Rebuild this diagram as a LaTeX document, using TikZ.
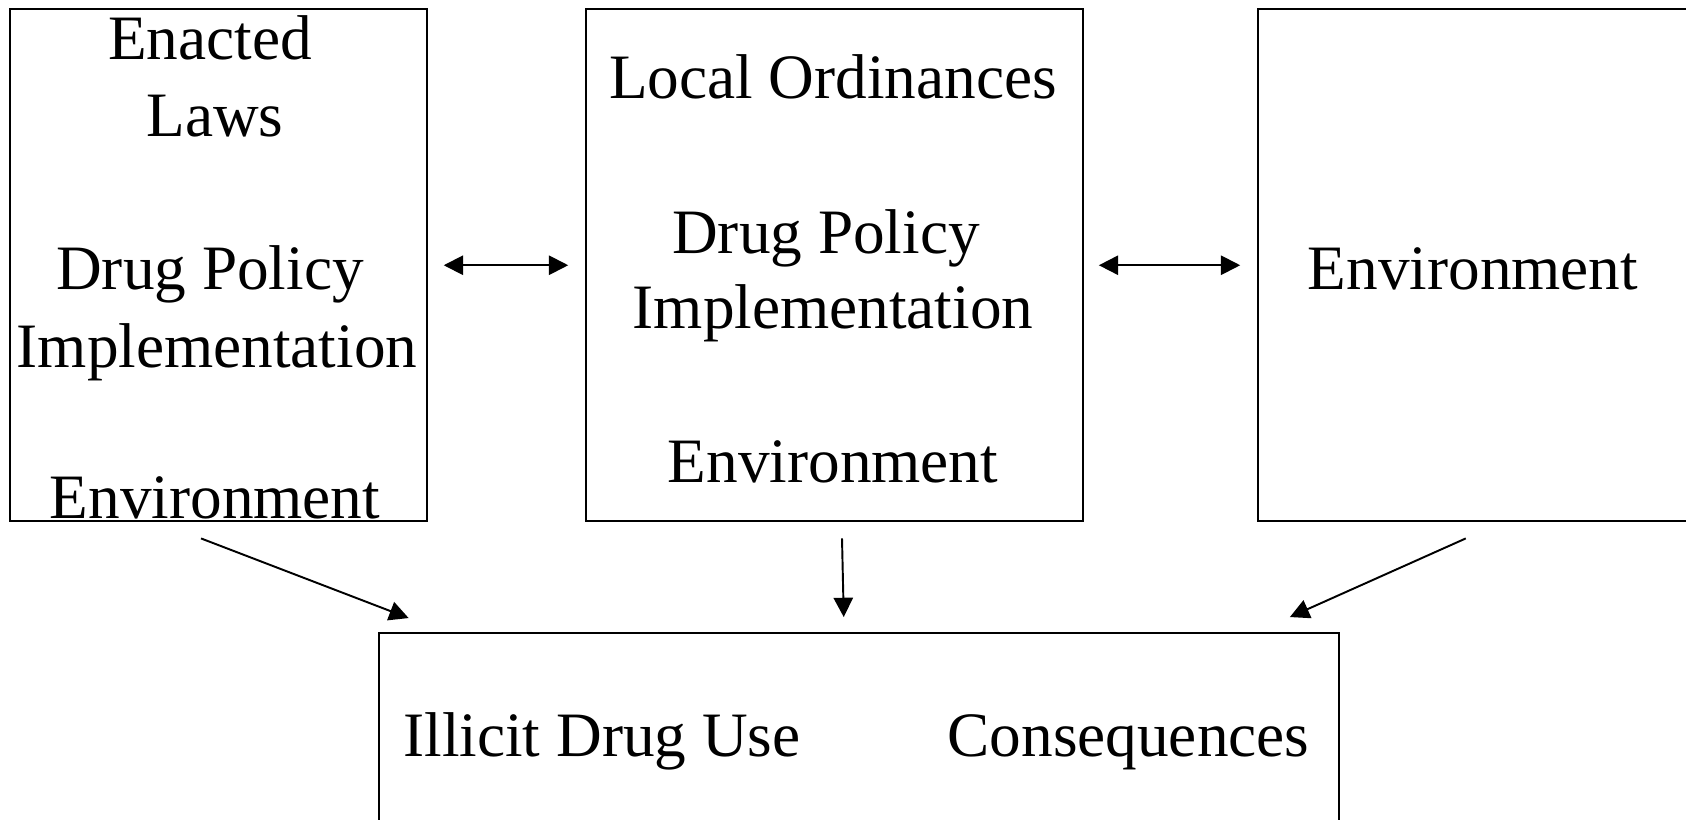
\documentclass[tikz,border=0pt]{standalone}
\usepackage{fontspec}
\setmainfont{Liberation Serif}
\usetikzlibrary{arrows.meta}

\tikzset{
 box/.style={draw, line width=1.1pt, inner sep=0pt},
 lbl/.style={anchor=base, inner sep=0pt, font=\fontsize{36}{43}\selectfont},
 link/.style={line width=1.1pt, >={Triangle[length=11pt,width=11pt]}}
}

\begin{document}
\begin{tikzpicture}[x=0.02cm, y=0.02cm]
\useasboundingbox (0,0) rectangle (1686,-820);
% boxes
\node[box, minimum width=8.34cm, minimum height=10.25cm] (lft) at (218.5,-265.25) {};
\node[box, minimum width=9.94cm, minimum height=10.25cm] (mid) at (834.5,-265.25) {};
\node[box, minimum width=9.24cm, minimum height=10.25cm] (rgt) at (1489,-265.25) {};
\node[box, minimum width=19.21cm, minimum height=4.54cm] (use) at (858.75,-746.5) {};
% texts
\node[lbl] (enacted) at (210,-60) {Enacted};
\node[lbl] (laws) at (215,-136.5) {Laws};
\node[lbl] (lftpolicy) at (210,-290) {Drug Policy};
\node[lbl] (lftimpl) at (217,-368) {Implementation};
\node[lbl] (lftenv) at (215,-518) {Environment};
\node[lbl] (local) at (833,-99) {Local Ordinances};
\node[lbl] (midpolicy) at (826,-254) {Drug Policy};
\node[lbl] (midimpl) at (833,-329) {Implementation};
\node[lbl] (midenv) at (833,-482) {Environment};
\node[lbl] (rgtenv) at (1473,-290) {Environment};
\node[lbl] (illicit) at (602,-756) {Illicit Drug Use};
\node[lbl] (conseq) at (1128.5,-756) {Consequences};
% arrows
\draw[link, <->, shorten <=9pt, shorten >=9.6pt] (lft.east) -- (mid.west);
\draw[link, <->, shorten <=8.5pt, shorten >=9.6pt] (mid.east) -- (rgt.west);
\draw[link, ->] ([shift={(-17.5,-16)}]lft.south) -- ([shift={(31,14)}]use.north west);
\draw[link, ->] ([shift={(7.5,-16)}]mid.south) -- ([shift={(-15,15)}]use.north);
\draw[link, ->] ([shift={(208.7,-16)}]rgt.south west) -- ([shift={(-50,15)}]use.north east);
\end{tikzpicture}
\end{document}
